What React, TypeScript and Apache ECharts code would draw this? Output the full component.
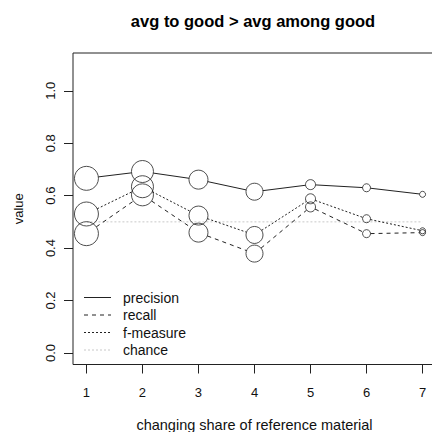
import React, { useEffect, useRef } from "react";
import * as echarts from "echarts";

const xValues = [1, 2, 3, 4, 5, 6, 7];
const precision = [0.666, 0.692, 0.661, 0.615, 0.642, 0.63, 0.605];
const recall = [0.455, 0.603, 0.459, 0.379, 0.557, 0.455, 0.459];
const fMeasure = [0.53, 0.634, 0.524, 0.45, 0.588, 0.512, 0.466];
const chance = [0.5, 0.5, 0.5, 0.5, 0.5, 0.5, 0.5];
const pointSizes = [24, 22, 19, 17, 10, 8, 6];
const yTicks = [0, 0.2, 0.4, 0.6, 0.8, 1.0];
const seriesNames = ["precision", "recall", "f-measure", "chance"];
const titleText = "avg to good > avg among good";
const xName = "changing share of reference material";
const yName = "value";

const FONT = "'Liberation Sans', Arial, sans-serif";
const INK = "#222";

function segments(vals: number[]) {
  const out: number[][] = [];
  for (let i = 0; i < vals.length - 1; i++) {
    out.push([xValues[i], vals[i], xValues[i + 1], vals[i + 1], pointSizes[i], pointSizes[i + 1]]);
  }
  return out;
}

function lineSeries(name: string, vals: number[], dash: number[] | null) {
  return {
    name,
    type: "custom",
    encode: { x: [0, 2], y: [1, 3] },
    data: segments(vals),
    silent: true,
    renderItem: (_p: any, api: any) => {
      const p1 = api.coord([api.value(0), api.value(1)]);
      const p2 = api.coord([api.value(2), api.value(3)]);
      const r1 = api.value(4) / 2;
      const r2 = api.value(5) / 2;
      const dx = p2[0] - p1[0];
      const dy = p2[1] - p1[1];
      const len = Math.sqrt(dx * dx + dy * dy);
      if (len <= r1 + r2) return { type: "group", children: [] };
      const ux = dx / len;
      const uy = dy / len;
      return {
        type: "line",
        shape: {
          x1: p1[0] + ux * r1,
          y1: p1[1] + uy * r1,
          x2: p2[0] - ux * r2,
          y2: p2[1] - uy * r2,
        },
        style: { stroke: INK, lineWidth: 1, lineDash: dash || undefined, fill: null },
      };
    },
  };
}

function pointSeries(name: string, vals: number[]) {
  return {
    name: name + "-pts",
    type: "scatter",
    data: vals.map((v, i) => [xValues[i], v, pointSizes[i]]),
    symbol: "circle",
    symbolSize: (val: number[]) => val[2],
    itemStyle: { color: "rgba(0,0,0,0)", borderColor: INK, borderWidth: 1 },
    silent: true,
    z: 3,
  };
}

export default function App() {
  const ref = useRef<HTMLDivElement>(null);
  useEffect(() => {
    if (!ref.current) return;
    const chart = echarts.init(ref.current, null, { renderer: "svg" });
    const legendStyles: { dash: number[] | null; color: string }[] = [
      { dash: null, color: INK },
      { dash: [4, 4], color: INK },
      { dash: [2, 2], color: INK },
      { dash: [2, 2], color: "#c8c8c8" },
    ];
    const legendY0 = 297.5;
    const legendStep = 17.5;
    const legendGraphics: any[] = [];
    seriesNames.forEach((n, i) => {
      const y = legendY0 + i * legendStep;
      legendGraphics.push({
        type: "line",
        shape: { x1: 84, y1: y, x2: 111, y2: y },
        style: { stroke: legendStyles[i].color, lineWidth: 1, lineDash: legendStyles[i].dash || undefined },
      });
      legendGraphics.push({
        type: "text",
        x: 123,
        y,
        style: { text: n, font: `14px ${FONT}`, fill: "#111", textAlign: "left", textVerticalAlign: "middle" },
      });
    });
    chart.setOption({
      animation: false,
      backgroundColor: "#fff",
      grid: {
        left: 73,
        top: 53,
        right: -4,
        bottom: 67.5,
        show: true,
        borderColor: INK,
        borderWidth: 1,
        backgroundColor: "transparent",
        containLabel: false,
        outerBoundsMode: "none",
      },
      xAxis: {
        type: "value",
        min: 0.76,
        max: 7.24,
        axisLine: { show: false, onZero: false },
        splitLine: { show: false },
        axisTick: { show: true, length: 9, lineStyle: { color: INK }, customValues: xValues },
        axisLabel: {
          customValues: xValues,
          margin: 21,
          fontSize: 13,
          fontFamily: FONT,
          color: "#111",
        },
        name: xName,
        nameLocation: "middle",
        nameGap: 53,
        nameMoveOverlap: false,
        nameTextStyle: { fontSize: 14.5, fontFamily: FONT, color: "#111" },
      },
      yAxis: {
        type: "value",
        min: -0.044,
        max: 1.144,
        axisLine: { show: false, onZero: false },
        splitLine: { show: false },
        axisTick: { show: true, length: 9, lineStyle: { color: INK }, customValues: yTicks },
        axisLabel: {
          customValues: yTicks,
          rotate: 90,
          margin: 16,
          fontSize: 13,
          fontFamily: FONT,
          color: "#111",
          formatter: (v: number) => v.toFixed(1),
        },
        name: yName,
        nameLocation: "middle",
        nameGap: 48,
        nameMoveOverlap: false,
        nameTextStyle: { fontSize: 13, fontFamily: FONT, color: "#111" },
      },
      graphic: [
        {
          type: "text",
          x: 253,
          y: 21,
          style: {
            text: titleText,
            font: `bold 16.5px ${FONT}`,
            fill: "#000",
            textAlign: "center",
            textVerticalAlign: "middle",
          },
        },
        ...legendGraphics,
      ],
      series: [
        {
          name: "chance",
          type: "line",
          data: chance.map((v, i) => [xValues[i], v]),
          showSymbol: false,
          symbol: "none",
          lineStyle: { color: "#c8c8c8", width: 1, type: [2, 2] },
          silent: true,
          z: 1,
        },
        lineSeries("precision", precision, null),
        lineSeries("recall", recall, [4, 4]),
        lineSeries("f-measure", fMeasure, [2, 2]),
        pointSeries("precision", precision),
        pointSeries("recall", recall),
        pointSeries("f-measure", fMeasure),
      ],
    });
    return () => chart.dispose();
  }, []);
  return (
    <div
      ref={ref}
      style={{ position: "fixed", left: 0, top: 0, width: 432, height: 432, overflow: "hidden", background: "#fff" }}
    />
  );
}
